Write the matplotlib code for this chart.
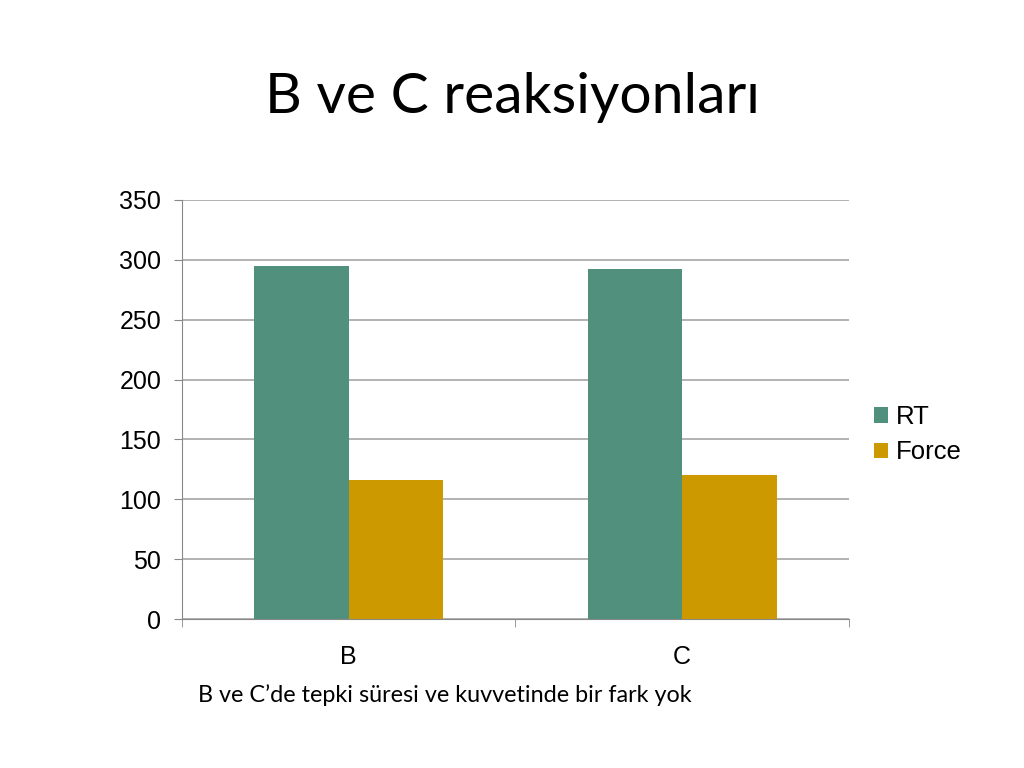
import matplotlib
matplotlib.use("Agg")
import matplotlib.pyplot as plt
import numpy as np

categories = ["B", "C"]
rt = [295, 292]
force = [116, 120]
series_names = ["RT", "Force"]

green = "#51907C"
gold = "#CC9900"

fig = plt.figure(figsize=(10.24, 7.68), dpi=100)
ax = fig.add_axes([0.1777, 0.194, 0.6514, 0.5456])

x = np.arange(len(categories))
w = 0.283
ax.bar(x - w / 2, rt, w, color=green, label=series_names[0], zorder=3)
ax.bar(x + w / 2, force, w, color=gold, label=series_names[1], zorder=3)

ax.set_xlim(-0.5, 1.5)
ax.set_ylim(0, 350)
ax.set_yticks(np.arange(0, 351, 50))
ax.set_xticks(x)
ax.set_xticklabels(categories, fontsize=18, family="Liberation Sans")
ax.set_xticks([-0.5, 0.5, 1.5], minor=True)
ax.tick_params(axis="x", which="major", length=0, pad=19)
ax.tick_params(axis="x", which="minor", length=6, color="#888888", direction="out")
ax.tick_params(axis="y", length=6, color="#888888", labelsize=18, pad=9)
for lab in ax.get_yticklabels():
    lab.set_family("Liberation Sans")

ax.yaxis.grid(True, color="#A6A6A6", linewidth=1.2, zorder=0)
for s in ["top", "right"]:
    ax.spines[s].set_visible(False)
ax.spines["left"].set_color("#888888")
ax.spines["bottom"].set_color("#888888")

ax.legend(loc="center left", bbox_to_anchor=(1.003, 0.44), frameon=False,
          prop={"family": "Liberation Sans", "size": 18.5},
          handlelength=0.55, handleheight=0.55, handletextpad=0.3, labelspacing=0.45)

fig.text(0.5, 0.873, "B ve C reaksiyonları", ha="center", va="center",
         fontsize=41, family="Lato")
fig.text(0.193, 0.095, "B ve C\u2019de tepki süresi ve kuvvetinde bir fark yok",
         ha="left", va="center", fontsize=16.8, family="Lato")

fig.savefig("out.png", dpi=100)
